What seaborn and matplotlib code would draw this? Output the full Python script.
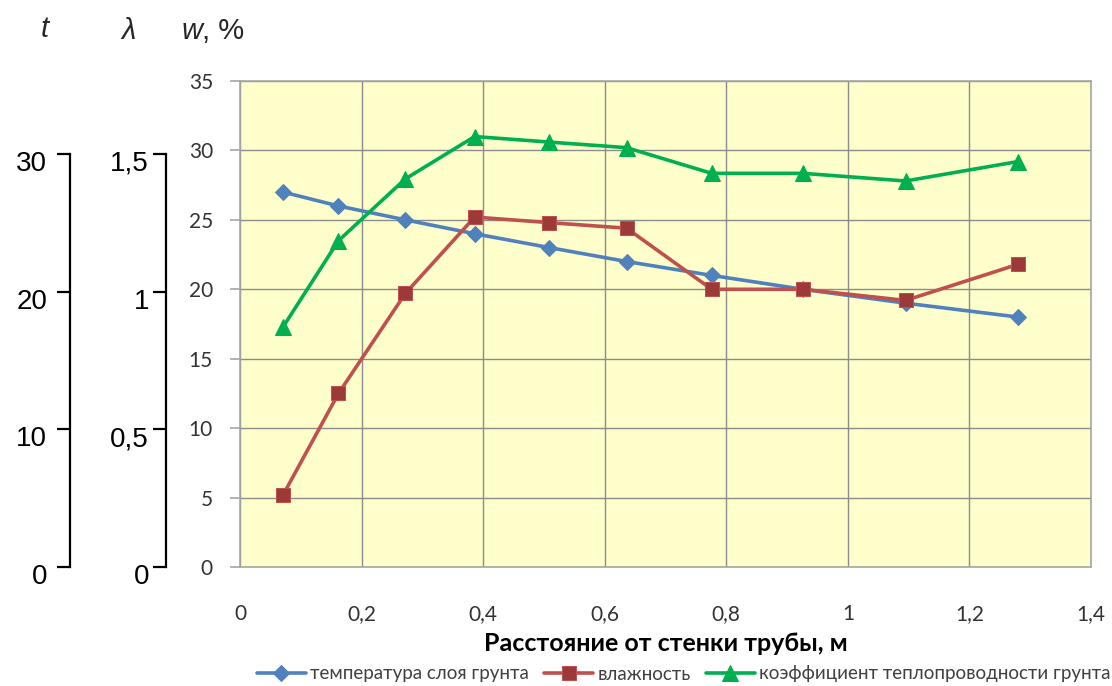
import matplotlib
matplotlib.use("Agg")
import matplotlib.pyplot as plt
import matplotlib.transforms as mtransforms
import seaborn as sns
import pandas as pd

# ---- data ----
distance = [0.071, 0.162, 0.272, 0.386, 0.509, 0.636, 0.776, 0.926, 1.095, 1.280]
temperature = [27.0, 26.0, 25.0, 24.0, 23.0, 22.0, 21.0, 20.0, 19.0, 18.0]
moisture = [5.2, 12.5, 19.7, 25.2, 24.8, 24.4, 20.0, 20.0, 19.2, 21.8]
conductivity = [17.3, 23.5, 27.95, 31.0, 30.6, 30.2, 28.35, 28.35, 27.8, 29.2]

series_names = ["температура слоя грунта", "влажность",
                "коэффициент теплопроводности грунта"]
x_ticks = [0, 0.2, 0.4, 0.6, 0.8, 1.0, 1.2, 1.4]
x_tick_labels = ["0", "0,2", "0,4", "0,6", "0,8", "1", "1,2", "1,4"]
w_ticks = [0, 5, 10, 15, 20, 25, 30, 35]
t_ticks = [0, 10, 20, 30]
t_tick_labels = ["0", "10", "20", "30"]
lam_ticks = [0, 0.5, 1.0, 1.5]
lam_tick_labels = ["0", "0,5", "1", "1,5"]
x_label = "Расстояние от стенки трубы, м"

sns.set_theme(style="white")
plt.rcParams["font.family"] = ["Lato", "DejaVu Sans"]

W, H = 1112, 686
fig = plt.figure(figsize=(W / 100, H / 100), dpi=100)
ax = fig.add_axes([240 / W, 1 - 567 / H, (1091 - 240) / W, (567 - 81) / H])
ax.set_facecolor("#FFFFCC")

df = pd.DataFrame({"x": distance, "t": temperature, "w": moisture, "l": conductivity})

sns.lineplot(data=df, x="x", y="t", ax=ax, color="#4F81BD", lw=2.6,
             marker="D", markersize=8.5, markeredgecolor="#4F81BD",
             markerfacecolor="#4F81BD", label=series_names[0])
sns.lineplot(data=df, x="x", y="w", ax=ax, color="#C0504D", lw=2.6,
             marker="s", markersize=9.5, markeredgecolor="#C0504D",
             markerfacecolor="#9B3A38", label=series_names[1])
sns.lineplot(data=df, x="x", y="l", ax=ax, color="#00B050", lw=2.6,
             marker="^", markersize=11, markeredgecolor="#00B050",
             markerfacecolor="#00B050", label=series_names[2])

ax.set_xlim(0, 1.4)
ax.set_ylim(0, 35)
ax.set_xticks(x_ticks)
ax.set_xticklabels(x_tick_labels)
ax.set_yticks(w_ticks)
ax.set_yticklabels([str(v) for v in w_ticks])
ax.grid(True, color="#8C8C8C", lw=1.0)
ax.set_axisbelow(True)
for s in ax.spines.values():
    s.set_color("#A6A6A6")
    s.set_linewidth(1.2)
ax.tick_params(axis="both", which="both", direction="out", length=7.5,
               color="#A6A6A6", labelsize=15, labelcolor="#333333", width=1.2)
ax.tick_params(axis="y", pad=12)
ax.tick_params(axis="x", pad=19)
ax.set_xlabel(x_label, fontsize=18, fontweight="bold", color="black", labelpad=6)
ax.set_ylabel("")

leg = ax.legend(loc="center", bbox_to_anchor=(684 / W, 1 - 674 / H),
                bbox_transform=fig.transFigure, ncol=3,
                frameon=False, fontsize=13.5, handlelength=2.6, columnspacing=0.8,
                handletextpad=0.25, borderpad=0, borderaxespad=0)
for txt in leg.get_texts():
    txt.set_color("#404040")

# ---- bracket axes for t and lambda ----
lab_font = ["Liberation Sans", "DejaVu Sans"]

def bracket_axis(x_px, ymax, ticks, labels, top, label_right_px):
    a = ax.twinx()
    a.set_ylim(0, ymax)
    a.patch.set_visible(False)
    for k in ["top", "right", "bottom"]:
        a.spines[k].set_visible(False)
    frac = (x_px - 240) / (1091 - 240)
    a.spines["left"].set_visible(True)
    a.spines["left"].set_position(("axes", frac))
    a.spines["left"].set_bounds(0, top)
    a.spines["left"].set_color("black")
    a.spines["left"].set_linewidth(1.6)
    a.yaxis.set_ticks_position("left")
    a.set_yticks(ticks)
    a.set_yticklabels([])
    a.tick_params(axis="y", direction="out", length=9.5, width=1.6, color="black")
    a.grid(False)
    trans = mtransforms.blended_transform_factory(fig.transFigure, a.transData)
    off = mtransforms.ScaledTranslation(0, -10 / 100, fig.dpi_scale_trans)
    for v, lab in zip(ticks, labels):
        a.text(label_right_px / W, v, lab, transform=trans + off, ha="right",
               va="center", fontsize=20, family=lab_font, color="black")
    return a

t_ax = bracket_axis(70, 35.3, t_ticks, t_tick_labels, 30, 47)
l_ax = bracket_axis(166, 35.3 / 20, lam_ticks, lam_tick_labels, 1.5, 149)

# ---- axis header labels ----
hdr = dict(fontsize=21, family=lab_font, va="center")
fig.text(45 / W, 1 - 29 / H, "t", style="italic", ha="center", **hdr)
fig.text(129 / W, 1 - 31 / H, "λ", style="italic", ha="center", **hdr)
fig.text(182 / W, 1 - 31 / H, "w", style="italic", ha="left", **hdr)
fig.text(202 / W, 1 - 31 / H, ", %", ha="left", **hdr)

fig.savefig("out.png", dpi=100)
